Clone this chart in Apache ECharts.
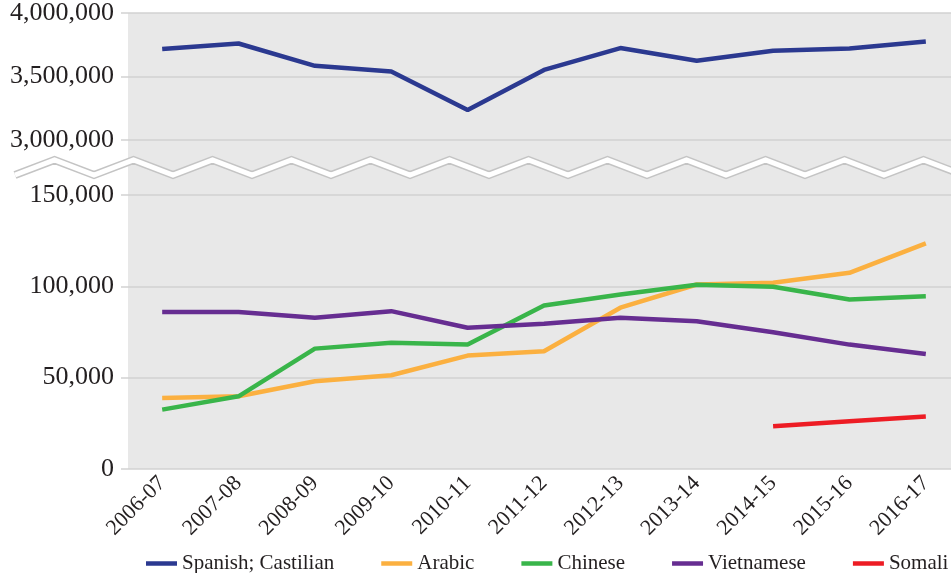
<!DOCTYPE html>
<html>
<head>
<meta charset="utf-8">
<script src="https://cdn.jsdelivr.net/npm/echarts@6/dist/echarts.min.js"></script>
<style>
  html, body { margin: 0; padding: 0; background: #fff; }
  #chart { width: 951px; height: 573px; }
</style>
</head>
<body>
<div id="chart"></div>
<script>
// 学年
const years = ['2006-07', '2007-08', '2008-09', '2009-10', '2010-11', '2011-12',
  '2012-13', '2013-14', '2014-15', '2015-16', '2016-17']

// 各语言人数
const spanish = [3716000, 3760000, 3584000, 3539000, 3237000, 3552000, 3724000, 3624000, 3703000, 3720000, 3776000]
const arabic = [38900, 39800, 48000, 51300, 62100, 64500, 88300, 101000, 102000, 107400, 123500]
const chinese = [32500, 39800, 65900, 69100, 68100, 89500, 95500, 100900, 99800, 92800, 94600]
const vietnamese = [86000, 86000, 82800, 86400, 77300, 79500, 82800, 80900, 74900, 68100, 63000]
const somali = [null, null, null, null, null, null, null, null, 23400, 26100, 28800]

// 刻度
const topTicks = [3000000, 3500000, 4000000]
const bottomTicks = [0, 50000, 100000, 150000]

const colors = {
  spanish: '#2b3990',
  arabic: '#fbb040',
  chinese: '#39b54a',
  vietnamese: '#662d91',
  somali: '#ed1c24'
}

const font = "'Liberation Serif', 'Times New Roman', serif"
const textColor = '#231f20'
const gridColor = '#d2d2d2'

const fmt = (v) => String(v).replace(/\B(?=(\d{3})+(?!\d))/g, ',')

// 断轴的锯齿线
const zigzag = []
for (let x = 15, i = 0; x < 990; x += 39.5, i++) {
  zigzag.push([x, i % 2 === 0 ? 175 : 160])
}

const lineSeries = (name, data, color, idx) => ({
  name,
  type: 'line',
  data,
  xAxisIndex: idx,
  yAxisIndex: idx,
  symbol: 'none',
  connectNulls: false,
  lineStyle: { color, width: 4.5 },
  itemStyle: { color },
  emphasis: { disabled: true }
})

const yAxisBase = (gridIndex, min, max, interval) => ({
  type: 'value',
  gridIndex,
  min,
  max,
  interval,
  axisLine: { show: false },
  axisTick: { show: true, length: 3, lineStyle: { color: gridColor, width: 1.5 } },
  splitLine: { lineStyle: { color: gridColor, width: 1.5 } },
  axisLabel: {
    fontFamily: font,
    fontSize: 26,
    color: textColor,
    margin: 10,
    formatter: fmt
  }
})

const chart = echarts.init(document.getElementById('chart'))
chart.setOption({
  animation: false,
  graphic: [
    {
      type: 'rect',
      z: -10,
      silent: true,
      shape: { x: 128, y: 13, width: 823, height: 456 },
      style: { fill: '#e8e8e8' }
    },
    {
      type: 'polyline',
      z: 10,
      silent: true,
      shape: { points: zigzag },
      style: { stroke: '#c4c4c4', lineWidth: 8, fill: null, lineJoin: 'miter' }
    },
    {
      type: 'polyline',
      z: 11,
      silent: true,
      shape: { points: zigzag },
      style: { stroke: '#ffffff', lineWidth: 5, fill: null, lineJoin: 'miter' }
    }
  ],
  legend: {
    left: 141,
    top: 548,
    width: 860,
    icon: 'rect',
    itemWidth: 31,
    itemHeight: 4.5,
    itemGap: 47,
    textStyle: { fontFamily: font, fontSize: 21, color: textColor },
    data: ['Spanish; Castilian', 'Arabic', 'Chinese', 'Vietnamese', 'Somali']
  },
  grid: [
    { left: 124, right: -13, top: 13, height: 127, outerBoundsMode: 'none' },
    { left: 124, right: -13, top: 195, height: 274, outerBoundsMode: 'none' }
  ],
  xAxis: [
    { type: 'category', gridIndex: 0, data: years, show: false },
    {
      type: 'category',
      gridIndex: 1,
      data: years,
      axisLine: { show: false },
      axisTick: { show: false },
      axisLabel: {
        interval: 0,
        rotate: 45,
        margin: 11,
        fontFamily: font,
        fontSize: 22,
        color: textColor
      }
    }
  ],
  yAxis: [
    yAxisBase(0, topTicks[0], topTicks[topTicks.length - 1], topTicks[1] - topTicks[0]),
    yAxisBase(1, bottomTicks[0], bottomTicks[bottomTicks.length - 1], bottomTicks[1] - bottomTicks[0])
  ],
  series: [
    lineSeries('Spanish; Castilian', spanish, colors.spanish, 0),
    lineSeries('Arabic', arabic, colors.arabic, 1),
    lineSeries('Chinese', chinese, colors.chinese, 1),
    lineSeries('Vietnamese', vietnamese, colors.vietnamese, 1),
    lineSeries('Somali', somali, colors.somali, 1)
  ]
})
</script>
</body>
</html>
